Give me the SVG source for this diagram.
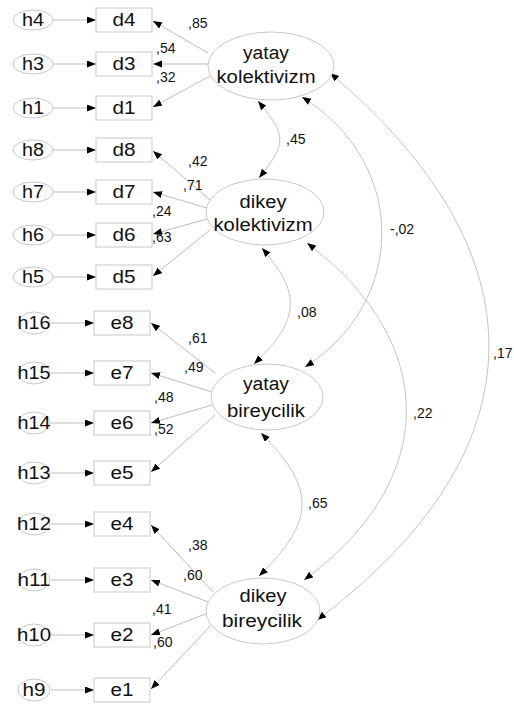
<svg xmlns="http://www.w3.org/2000/svg" width="514" height="705" viewBox="0 0 514 705">
  <style>
    .box { fill: #ffffff; stroke: #c8c8c8; stroke-width: 1; }
    .err { fill: #ffffff; stroke: #c8c8c8; stroke-width: 1; }
    .lat { fill: #ffffff; stroke: #c8c8c8; stroke-width: 1; }
    .lbl { font-family: "Liberation Sans", Arial, sans-serif; font-size: 18px; fill: #111111; text-anchor: middle; }
    .num { font-family: "Liberation Sans", Arial, sans-serif; font-size: 14px; fill: #111111; }
    .edge { fill: none; stroke: #bdbdbd; stroke-width: 1; marker-end: url(#tip); }
    .cov { fill: none; stroke: #c4c4c4; stroke-width: 1; marker-start: url(#tip); marker-end: url(#tip); }
  </style>
  <defs>
    <marker id="tip" markerUnits="userSpaceOnUse" markerWidth="10" markerHeight="8" refX="9" refY="3.5" orient="auto-start-reverse">
      <path d="M0,0 L9,3.5 L0,7 z" fill="#000000"/>
    </marker>
  </defs>
  <rect width="514" height="705" fill="#ffffff"/>

  <!-- connectors -->
  <g id="connectors">
    <!-- error terms to indicators -->
    <line class="edge" x1="53" y1="20" x2="96" y2="20"/>
    <line class="edge" x1="53" y1="64" x2="96" y2="64"/>
    <line class="edge" x1="53" y1="108" x2="96" y2="108"/>
    <line class="edge" x1="53" y1="150" x2="96" y2="150"/>
    <line class="edge" x1="53" y1="192" x2="96" y2="192"/>
    <line class="edge" x1="53" y1="235" x2="96" y2="235"/>
    <line class="edge" x1="53" y1="277" x2="96" y2="277"/>
    <line class="edge" x1="51" y1="323" x2="94" y2="323"/>
    <line class="edge" x1="51" y1="373" x2="94" y2="373"/>
    <line class="edge" x1="51" y1="423" x2="94" y2="423"/>
    <line class="edge" x1="51" y1="473" x2="94" y2="473"/>
    <line class="edge" x1="51" y1="524" x2="94" y2="524"/>
    <line class="edge" x1="51" y1="580" x2="94" y2="580"/>
    <line class="edge" x1="51" y1="635" x2="94" y2="635"/>
    <line class="edge" x1="51" y1="690" x2="94" y2="690"/>

    <!-- loadings: yatay kolektivizm -->
    <line class="edge" x1="208" y1="53" x2="153" y2="21"/>
    <line class="edge" x1="208" y1="64" x2="153" y2="64"/>
    <line class="edge" x1="210" y1="76" x2="153" y2="107"/>
    <!-- loadings: dikey kolektivizm -->
    <line class="edge" x1="210" y1="200" x2="153" y2="151"/>
    <line class="edge" x1="207" y1="208" x2="153" y2="192"/>
    <line class="edge" x1="207" y1="219" x2="153" y2="234"/>
    <line class="edge" x1="210" y1="230" x2="153" y2="276"/>
    <!-- loadings: yatay bireycilik -->
    <line class="edge" x1="215" y1="373" x2="151" y2="323"/>
    <line class="edge" x1="212" y1="392" x2="151" y2="373"/>
    <line class="edge" x1="212" y1="405" x2="151" y2="423"/>
    <line class="edge" x1="215" y1="415" x2="151" y2="472"/>
    <!-- loadings: dikey bireycilik -->
    <line class="edge" x1="213" y1="592" x2="151" y2="525"/>
    <line class="edge" x1="208" y1="602" x2="151" y2="580"/>
    <line class="edge" x1="208" y1="613" x2="151" y2="635"/>
    <line class="edge" x1="213" y1="623" x2="151" y2="689"/>

    <!-- covariances -->
    <path class="cov" d="M258,101 C287,136 287,143 259,178"/>
    <path class="cov" d="M262,248 C301,293 301,319 254,364"/>
    <path class="cov" d="M261,433 C316,488 316,521 259,576"/>
    <path class="cov" d="M302,97 C408,163 408,301 305,367"/>
    <path class="cov" d="M307,243 C440,343 440,480 304,580"/>
    <path class="cov" d="M330,73 C544,253 544,450 317,620"/>

    <!-- coefficients -->
    <text class="num" x="188" y="28">,85</text>
    <text class="num" x="156" y="53">,54</text>
    <text class="num" x="156" y="82">,32</text>
    <text class="num" x="286" y="144">,45</text>
    <text class="num" x="188" y="166">,42</text>
    <text class="num" x="183" y="190">,71</text>
    <text class="num" x="152" y="216">,24</text>
    <text class="num" x="152" y="242">,63</text>
    <text class="num" x="297" y="317">,08</text>
    <text class="num" x="188" y="343">,61</text>
    <text class="num" x="184" y="372">,49</text>
    <text class="num" x="154" y="402">,48</text>
    <text class="num" x="154" y="434">,52</text>
    <text class="num" x="308" y="508">,65</text>
    <text class="num" x="188" y="550">,38</text>
    <text class="num" x="183" y="580">,60</text>
    <text class="num" x="152" y="614">,41</text>
    <text class="num" x="153" y="647">,60</text>
    <text class="num" x="390" y="234">-,02</text>
    <text class="num" x="413" y="418">,22</text>
    <text class="num" x="493" y="358">,17</text>
  </g>

  <!-- latent variables -->
  <g id="yatay-kolektivizm">
    <ellipse class="lat" cx="271" cy="66" rx="63" ry="34"/>
    <text class="lbl" x="266" y="59" textLength="46" lengthAdjust="spacingAndGlyphs">yatay</text>
    <text class="lbl" x="266" y="83" textLength="99" lengthAdjust="spacingAndGlyphs">kolektivizm</text>
  </g>
  <g id="dikey-kolektivizm">
    <ellipse class="lat" cx="265" cy="212" rx="59" ry="33"/>
    <text class="lbl" x="263" y="208" textLength="47" lengthAdjust="spacingAndGlyphs">dikey</text>
    <text class="lbl" x="263" y="231" textLength="99" lengthAdjust="spacingAndGlyphs">kolektivizm</text>
  </g>
  <g id="yatay-bireycilik">
    <ellipse class="lat" cx="267" cy="397" rx="56" ry="33"/>
    <text class="lbl" x="266" y="390" textLength="46" lengthAdjust="spacingAndGlyphs">yatay</text>
    <text class="lbl" x="266" y="417" textLength="78" lengthAdjust="spacingAndGlyphs">bireycilik</text>
  </g>
  <g id="dikey-bireycilik">
    <ellipse class="lat" cx="263" cy="611" rx="57" ry="33"/>
    <text class="lbl" x="263" y="602" textLength="47" lengthAdjust="spacingAndGlyphs">dikey</text>
    <text class="lbl" x="262" y="627" textLength="80" lengthAdjust="spacingAndGlyphs">bireycilik</text>
  </g>

  <!-- indicators -->
  <g id="d4"><rect class="box" x="96" y="8" width="56" height="24"/><text class="lbl" x="124" y="26" textLength="23" lengthAdjust="spacingAndGlyphs">d4</text></g>
  <g id="d3"><rect class="box" x="96" y="52" width="56" height="24"/><text class="lbl" x="124" y="70" textLength="23" lengthAdjust="spacingAndGlyphs">d3</text></g>
  <g id="d1"><rect class="box" x="96" y="96" width="56" height="24"/><text class="lbl" x="124" y="114" textLength="23" lengthAdjust="spacingAndGlyphs">d1</text></g>
  <g id="d8"><rect class="box" x="96" y="138" width="56" height="24"/><text class="lbl" x="124" y="156" textLength="23" lengthAdjust="spacingAndGlyphs">d8</text></g>
  <g id="d7"><rect class="box" x="96" y="180" width="56" height="24"/><text class="lbl" x="124" y="198" textLength="23" lengthAdjust="spacingAndGlyphs">d7</text></g>
  <g id="d6"><rect class="box" x="96" y="223" width="56" height="24"/><text class="lbl" x="124" y="241" textLength="23" lengthAdjust="spacingAndGlyphs">d6</text></g>
  <g id="d5"><rect class="box" x="96" y="265" width="56" height="24"/><text class="lbl" x="124" y="283" textLength="23" lengthAdjust="spacingAndGlyphs">d5</text></g>
  <g id="e8"><rect class="box" x="94" y="311" width="56" height="24"/><text class="lbl" x="122" y="329" textLength="23" lengthAdjust="spacingAndGlyphs">e8</text></g>
  <g id="e7"><rect class="box" x="94" y="361" width="56" height="24"/><text class="lbl" x="122" y="379" textLength="23" lengthAdjust="spacingAndGlyphs">e7</text></g>
  <g id="e6"><rect class="box" x="94" y="411" width="56" height="24"/><text class="lbl" x="122" y="429" textLength="23" lengthAdjust="spacingAndGlyphs">e6</text></g>
  <g id="e5"><rect class="box" x="94" y="461" width="56" height="24"/><text class="lbl" x="122" y="479" textLength="23" lengthAdjust="spacingAndGlyphs">e5</text></g>
  <g id="e4"><rect class="box" x="94" y="512" width="56" height="24"/><text class="lbl" x="122" y="530" textLength="23" lengthAdjust="spacingAndGlyphs">e4</text></g>
  <g id="e3"><rect class="box" x="94" y="568" width="56" height="24"/><text class="lbl" x="122" y="586" textLength="23" lengthAdjust="spacingAndGlyphs">e3</text></g>
  <g id="e2"><rect class="box" x="94" y="623" width="56" height="24"/><text class="lbl" x="122" y="641" textLength="23" lengthAdjust="spacingAndGlyphs">e2</text></g>
  <g id="e1"><rect class="box" x="94" y="678" width="56" height="24"/><text class="lbl" x="122" y="696" textLength="23" lengthAdjust="spacingAndGlyphs">e1</text></g>

  <!-- error terms -->
  <g id="h4"><ellipse class="err" cx="33" cy="20" rx="20" ry="10"/><text class="lbl" x="33" y="26" textLength="22" lengthAdjust="spacingAndGlyphs">h4</text></g>
  <g id="h3"><ellipse class="err" cx="33" cy="64" rx="20" ry="10"/><text class="lbl" x="33" y="70" textLength="22" lengthAdjust="spacingAndGlyphs">h3</text></g>
  <g id="h1"><ellipse class="err" cx="33" cy="108" rx="20" ry="10"/><text class="lbl" x="33" y="114" textLength="22" lengthAdjust="spacingAndGlyphs">h1</text></g>
  <g id="h8"><ellipse class="err" cx="33" cy="150" rx="20" ry="10"/><text class="lbl" x="33" y="156" textLength="22" lengthAdjust="spacingAndGlyphs">h8</text></g>
  <g id="h7"><ellipse class="err" cx="33" cy="192" rx="20" ry="10"/><text class="lbl" x="33" y="198" textLength="22" lengthAdjust="spacingAndGlyphs">h7</text></g>
  <g id="h6"><ellipse class="err" cx="33" cy="235" rx="20" ry="10"/><text class="lbl" x="33" y="241" textLength="22" lengthAdjust="spacingAndGlyphs">h6</text></g>
  <g id="h5"><ellipse class="err" cx="33" cy="277" rx="20" ry="10"/><text class="lbl" x="33" y="283" textLength="22" lengthAdjust="spacingAndGlyphs">h5</text></g>
  <g id="h16"><ellipse class="err" cx="34" cy="323" rx="16" ry="11"/><text class="lbl" x="34" y="329" textLength="33" lengthAdjust="spacingAndGlyphs">h16</text></g>
  <g id="h15"><ellipse class="err" cx="34" cy="373" rx="16" ry="11"/><text class="lbl" x="34" y="379" textLength="33" lengthAdjust="spacingAndGlyphs">h15</text></g>
  <g id="h14"><ellipse class="err" cx="34" cy="423" rx="16" ry="11"/><text class="lbl" x="34" y="429" textLength="33" lengthAdjust="spacingAndGlyphs">h14</text></g>
  <g id="h13"><ellipse class="err" cx="34" cy="473" rx="16" ry="11"/><text class="lbl" x="34" y="479" textLength="33" lengthAdjust="spacingAndGlyphs">h13</text></g>
  <g id="h12"><ellipse class="err" cx="34" cy="524" rx="16" ry="11"/><text class="lbl" x="34" y="530" textLength="34" lengthAdjust="spacingAndGlyphs">h12</text></g>
  <g id="h11"><ellipse class="err" cx="34" cy="580" rx="16" ry="11"/><text class="lbl" x="34" y="586" textLength="33" lengthAdjust="spacingAndGlyphs">h11</text></g>
  <g id="h10"><ellipse class="err" cx="34" cy="635" rx="16" ry="11"/><text class="lbl" x="34" y="641" textLength="34" lengthAdjust="spacingAndGlyphs">h10</text></g>
  <g id="h9"><ellipse class="err" cx="34" cy="690" rx="16" ry="11"/><text class="lbl" x="34" y="696" textLength="23" lengthAdjust="spacingAndGlyphs">h9</text></g>
</svg>
